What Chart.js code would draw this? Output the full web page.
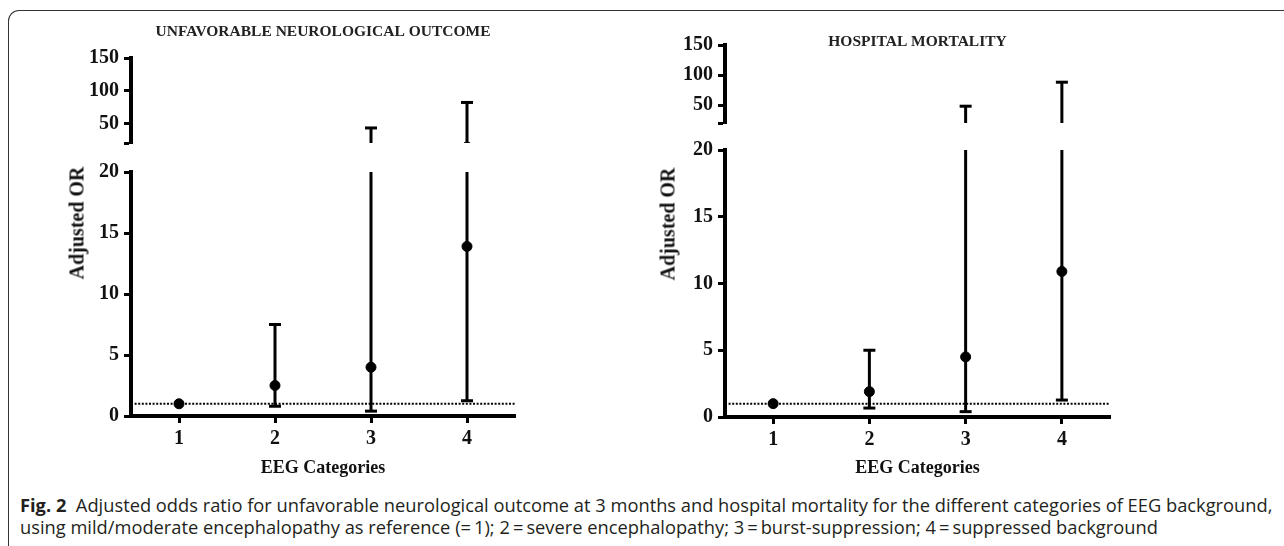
<!DOCTYPE html>
<html>
<head>
<meta charset="utf-8">
<script src="https://cdn.jsdelivr.net/npm/chart.js@4.4.1/dist/chart.umd.min.js"></script>
<style>
  body { margin: 0; width: 1284px; height: 546px; background: #fff; position: relative; overflow: hidden; }
  .frame { position: absolute; left: 8px; top: 10px; width: 1300px; height: 600px;
           border-top: 1px solid #333; border-left: 1px solid #333; border-top-left-radius: 11px; }
  canvas { position: absolute; }
  .ytitle { position: absolute; font: bold 20px "Liberation Serif", serif; color: #111;
            transform: translate(-50%, -50%) rotate(-90deg); white-space: nowrap; }
  .caption { position: absolute; left: 20px; top: 494px; font: 18.3px "Open Sans", sans-serif;
             line-height: 22px; color: #231f20; white-space: nowrap; }
  .caption b { font-weight: 700; }
</style>
</head>
<body>
<div class="frame"></div>

<canvas id="neuroUpper" width="640" height="160" style="left:0;top:0"></canvas>
<canvas id="neuroLower" width="640" height="340" style="left:0;top:150px"></canvas>
<canvas id="mortUpper" width="644" height="140" style="left:640px;top:0"></canvas>
<canvas id="mortLower" width="644" height="360" style="left:640px;top:130px"></canvas>

<div class="ytitle" style="left:77px;top:223px">Adjusted OR</div>
<div class="ytitle" style="left:668px;top:224px">Adjusted OR</div>

<div class="caption"><b>Fig. 2</b>&nbsp; Adjusted odds ratio for unfavorable neurological outcome at 3 months and hospital mortality for the different categories of EEG background,<br>using mild/moderate encephalopathy as reference (=&#8201;1); 2&#8201;=&#8201;severe encephalopathy; 3&#8201;=&#8201;burst-suppression; 4&#8201;=&#8201;suppressed background</div>

<script>
// EEG categories on the x axis
const categories = [1, 2, 3, 4];

// unfavorable neurological outcome: adjusted OR and 95% CI
const neuroOR = [1, 2.5, 4, 13.9];
const neuroLow = [null, 0.8, 0.4, 1.25];
const neuroHigh = [null, 7.5, 43, 82];

// hospital mortality
const mortOR = [1, 1.9, 4.5, 10.9];
const mortLow = [null, 0.67, 0.4, 1.27];
const mortHigh = [null, 5.0, 48, 88];

// broken y axis
const lowerTicks = [0, 5, 10, 15, 20];
const upperTicks = [50, 100, 150];
const breakValue = 20;
const upperMax = 150;
const refValue = 1;

Chart.defaults.font.family = '"Liberation Serif", serif';
Chart.defaults.color = '#111';

const tickFont = { size: 20, weight: 'bold' };

function buildDatasets(or, low, high) {
  const points = categories.map((c, i) => ({ x: c, y: or[i] }));
  const caps = [];
  const whiskers = [];
  categories.forEach((c, i) => {
    if (low[i] == null) return;
    caps.push({ x: c, y: low[i] }, { x: c, y: high[i] });
    whiskers.push({
      data: [{ x: c, y: low[i] }, { x: c, y: high[i] }],
      showLine: true, borderColor: '#000', borderWidth: 3, pointRadius: 0
    });
  });
  return [
    { data: points, pointRadius: 5, pointBackgroundColor: '#000', pointBorderColor: '#000', pointBorderWidth: 1 },
    { data: caps, pointStyle: 'line', pointRadius: 6, pointBorderWidth: 3, pointBorderColor: '#000' },
    ...whiskers,
    { data: [{ x: 0.5, y: refValue }, { x: 4.5, y: refValue }], showLine: true,
      borderColor: '#000', borderWidth: 2, borderDash: [2, 1.6], pointRadius: 0 }
  ];
}

const axisGrid = { display: true, drawOnChartArea: false, drawTicks: true, tickLength: 7, tickWidth: 3, tickColor: '#000' };
const axisBorder = { display: true, width: 4, color: '#000' };

function upperChart(id, or, low, high, title, axisWidth, pad, titlePad) {
  new Chart(document.getElementById(id), {
    type: 'scatter',
    data: { datasets: buildDatasets(or, low, high) },
    options: {
      responsive: false, animation: false, events: [],
      layout: { padding: pad },
      plugins: {
        legend: { display: false },
        tooltip: { enabled: false },
        title: { display: true, text: title, fullSize: false, color: '#222',
                 font: { size: 15.5, weight: 'bold' }, padding: titlePad }
      },
      scales: {
        x: { type: 'linear', display: false, min: 0.5, max: 4.5 },
        y: {
          min: breakValue, max: upperMax,
          afterBuildTicks: s => { s.ticks = [breakValue, ...upperTicks].map(v => ({ value: v })); },
          afterFit: s => { s.width = axisWidth; },
          grid: axisGrid, border: axisBorder,
          ticks: { font: tickFont, padding: 5, color: '#111', autoSkip: false,
                   callback: v => upperTicks.includes(v) ? String(v) : '' }
        }
      }
    }
  });
}

function lowerChart(id, or, low, high, axisWidth, xHeight, pad) {
  new Chart(document.getElementById(id), {
    type: 'scatter',
    data: { datasets: buildDatasets(or, low, high) },
    options: {
      responsive: false, animation: false, events: [],
      layout: { padding: pad },
      plugins: { legend: { display: false }, tooltip: { enabled: false } },
      scales: {
        x: {
          type: 'linear', min: 0.5, max: 4.5,
          afterBuildTicks: s => { s.ticks = categories.map(v => ({ value: v })); },
          afterFit: s => { s.height = xHeight; },
          grid: axisGrid, border: axisBorder,
          ticks: { font: tickFont, padding: 4, color: '#111', autoSkip: false, maxRotation: 0 },
          title: { display: true, text: 'EEG Categories', color: '#111',
                   font: { size: 18, weight: 'bold' }, padding: { top: 0, bottom: 11 } }
        },
        y: {
          min: 0, max: breakValue,
          afterBuildTicks: s => { s.ticks = lowerTicks.map(v => ({ value: v })); },
          afterFit: s => { s.width = axisWidth; },
          grid: axisGrid, border: axisBorder,
          ticks: { font: tickFont, padding: 5, color: '#111', autoSkip: false }
        }
      }
    }
  });
}

upperChart('neuroUpper', neuroOR, neuroLow, neuroHigh, 'UNFAVORABLE NEUROLOGICAL OUTCOME', 131,
  { top: 14, left: 0, right: 125, bottom: 14 }, { top: 8.7, bottom: 16.7 });
lowerChart('neuroLower', neuroOR, neuroLow, neuroHigh, 131, 74,
  { top: 22, left: 0, right: 125, bottom: 0 });

upperChart('mortUpper', mortOR, mortLow, mortHigh, 'HOSPITAL MORTALITY', 85,
  { top: 20, left: 0, right: 174, bottom: 13 }, { top: 12.7, bottom: -6.3 });
lowerChart('mortLower', mortOR, mortLow, mortHigh, 85, 73,
  { top: 20, left: 0, right: 174, bottom: 0 });
</script>
</body>
</html>
